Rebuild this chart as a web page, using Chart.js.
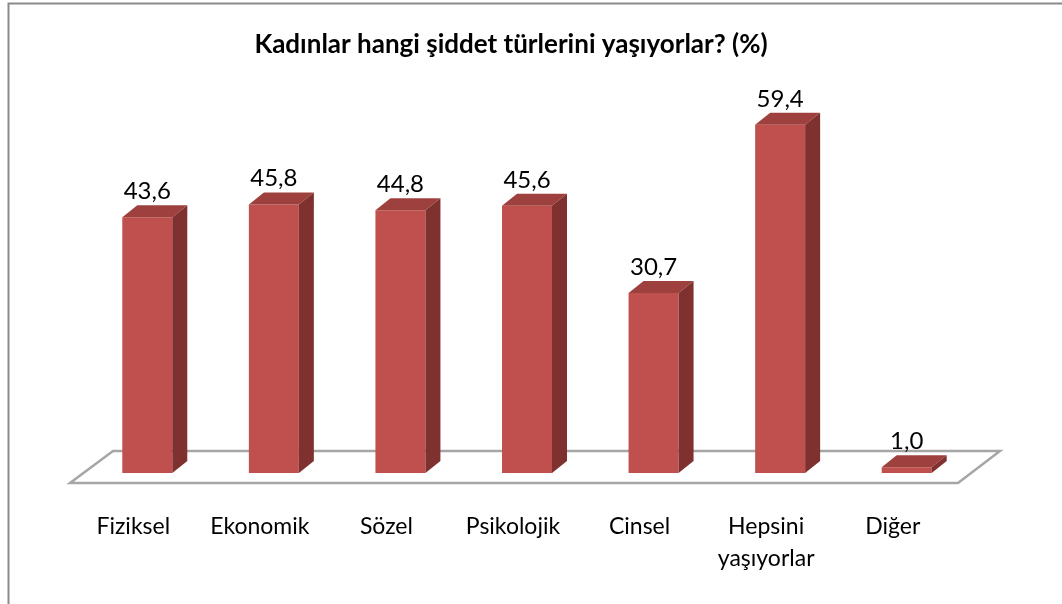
<!DOCTYPE html>
<html>
<head>
<meta charset="utf-8">
<script src="https://cdn.jsdelivr.net/npm/chart.js@4.4.0/dist/chart.umd.min.js"></script>
<style>
  html, body { margin: 0; padding: 0; background: #fff; }
  #wrap { width: 1062px; height: 604px; }
</style>
</head>
<body>
<div id="wrap"><canvas id="bar-chart"></canvas></div>
<script>
// chart data
const categories = ['Fiziksel', 'Ekonomik', 'Sözel', 'Psikolojik', 'Cinsel', ['Hepsini', 'yaşıyorlar'], 'Diğer'];
const values = [43.6, 45.8, 44.8, 45.6, 30.7, 59.4, 1.0];
const titleText = 'Kadınlar hangi şiddet türlerini yaşıyorlar? (%)';

const FRONT = '#c0504d';
const TOP = '#9e403d';
const SIDE = '#7f312f';
const DX = 15, DY = -12; // bar depth

// draws the frame, the floor and the 3d faces of the bars
const threeD = {
  id: 'threeD',
  beforeDraw(chart) {
    const ctx = chart.ctx;
    ctx.save();
    ctx.strokeStyle = '#8a8a8a';
    ctx.lineWidth = 2;
    ctx.strokeRect(8.5, 3.5, 3000, 3000);
    ctx.restore();
  },
  beforeDatasetsDraw(chart) {
    const { ctx, chartArea: a } = chart;
    ctx.save();
    ctx.beginPath();
    ctx.moveTo(a.left - 14, a.bottom + 10);
    ctx.lineTo(a.right - 12, a.bottom + 10);
    ctx.lineTo(a.right + 30, a.bottom - 22);
    ctx.lineTo(a.left + 29, a.bottom - 22);
    ctx.closePath();
    ctx.fillStyle = '#fff';
    ctx.fill();
    ctx.strokeStyle = '#a6a6a6';
    ctx.lineWidth = 2.5;
    ctx.stroke();
    ctx.restore();
  },
  afterDatasetsDraw(chart) {
    const ctx = chart.ctx;
    const meta = chart.getDatasetMeta(0);
    ctx.save();
    meta.data.forEach((bar, i) => {
      const x0 = bar.x - bar.width / 2, x1 = bar.x + bar.width / 2;
      const y = bar.y, b = bar.base;
      // top
      ctx.beginPath();
      ctx.moveTo(x0, y);
      ctx.lineTo(x1, y);
      ctx.lineTo(x1 + DX, y + DY);
      ctx.lineTo(x0 + DX, y + DY);
      ctx.closePath();
      ctx.fillStyle = TOP;
      ctx.fill();
      // side
      ctx.beginPath();
      ctx.moveTo(x1, y);
      ctx.lineTo(x1 + DX, y + DY);
      ctx.lineTo(x1 + DX, b + DY);
      ctx.lineTo(x1, b);
      ctx.closePath();
      ctx.fillStyle = SIDE;
      ctx.fill();
      // value label
      ctx.fillStyle = '#000';
      ctx.font = '24px Lato';
      ctx.textAlign = 'center';
      ctx.textBaseline = 'alphabetic';
      ctx.fillText(values[i].toFixed(1).replace('.', ','), bar.x, y - 18);
    });
    ctx.restore();
  }
};

const chartCanvas = document.getElementById('bar-chart').getContext('2d');

const config = {
  type: 'bar',
  data: {
    labels: categories,
    datasets: [{
      data: values,
      backgroundColor: FRONT,
      borderWidth: 0,
      barPercentage: 0.395,
      categoryPercentage: 1
    }]
  },
  options: {
    responsive: true,
    maintainAspectRatio: false,
    animation: false,
    layout: { padding: { left: 52, right: 92, top: 0, bottom: 0 } },
    plugins: {
      legend: { display: false },
      tooltip: { enabled: false },
      title: {
        display: true,
        text: titleText,
        color: '#000',
        font: { family: 'Lato', size: 26, weight: 'bold' },
        padding: { top: 29, bottom: 61 }
      }
    },
    scales: {
      x: {
        grid: { display: false, drawTicks: false },
        border: { display: false },
        ticks: {
          color: '#000',
          font: { family: 'Lato', size: 23, lineHeight: 1.4 },
          padding: 37,
          labelOffset: -14,
          maxRotation: 0,
          autoSkip: false
        },
        afterFit(scale) { scale.height = 131; }
      },
      y: {
        min: 0,
        max: 60,
        grid: { display: false, drawTicks: false },
        border: { display: false },
        ticks: { display: false },
        afterFit(scale) { scale.width = 32; }
      }
    }
  },
  plugins: [threeD]
};

const newBarChart = new Chart(chartCanvas, config);
</script>
</body>
</html>
